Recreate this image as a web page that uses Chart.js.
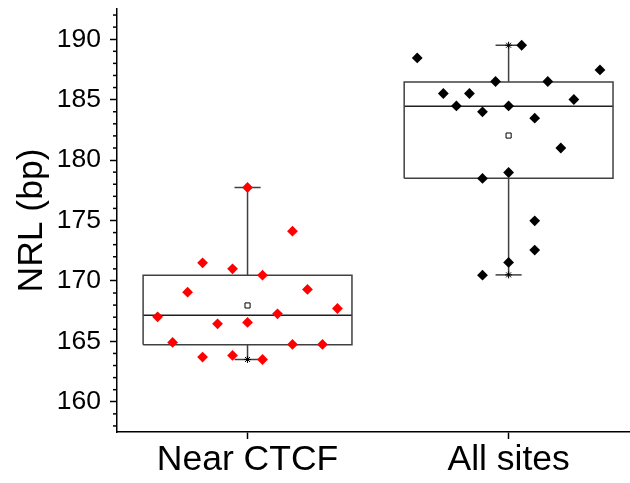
<!DOCTYPE html>
<html>
<head>
<meta charset="utf-8">
<script src="https://cdn.jsdelivr.net/npm/chart.js@4"></script>
<style>
  html, body { margin: 0; padding: 0; background: #fff; }
  #wrap { width: 630px; height: 483px; }
</style>
</head>
<body>
<div id="wrap"><canvas id="c" width="630" height="483"></canvas></div>
<script>
// ---- data ----
const categories = ['Near CTCF', 'All sites'];
const yTickValues = [160, 165, 170, 175, 180, 185, 190];

const nearValues = [167.03, 164.91, 169.07, 171.5, 163.7, 166.45, 171.0, 163.84, 177.73, 166.57, 170.48, 163.5, 167.28, 174.12, 164.75, 169.3, 164.75, 167.72];
const nearJitter = [-6, -5, -4, -3, -3, -2, -1, -1, 0, 0, 1, 1, 2, 3, 3, 4, 5, 6];

const allValues = [188.45, 185.51, 184.48, 185.51, 183.99, 178.48, 170.48, 186.5, 184.48, 178.97, 171.53, 189.5, 183.47, 174.97, 172.55, 186.5, 181.0, 185.01, 187.46];
const allJitter = [-7, -5, -4, -3, -2, -2, -2, -1, 0, 0, 0, 1, 2, 2, 2, 3, 4, 5, 7];

const boxQ1 = [164.71, 178.5];
const boxMedian = [167.15, 184.46];
const boxQ3 = [170.48, 186.47];
const boxMean = [167.97, 182.03];
const whiskerLow = [163.5, 170.5];
const whiskerHigh = [177.73, 189.5];

// ---- drawing config ----
const FONT = "'Liberation Sans', Arial, sans-serif";
const BOX_HALF = 0.4, CAP_HALF = 0.05;
const jitterStep = [0.0574, 0.05];
const pointColors = ['#ff0000', '#000000'];
const groupValues = [nearValues, allValues];
const groupJitter = [nearJitter, allJitter];
const lineColor = '#404040';

const datasets = [];
function lineDs(pts, color, width) {
  return { data: pts, showLine: true, pointRadius: 0, pointHoverRadius: 0,
    borderColor: color, borderWidth: width, fill: false, order: 5, clip: false };
}
categories.forEach((cat, g) => {
  const c = g + 1;
  datasets.push(lineDs([
    {x: c - BOX_HALF, y: boxQ1[g]}, {x: c + BOX_HALF, y: boxQ1[g]},
    {x: c + BOX_HALF, y: boxQ3[g]}, {x: c - BOX_HALF, y: boxQ3[g]},
    {x: c - BOX_HALF, y: boxQ1[g]}], lineColor, 1.5));
  datasets.push(lineDs([{x: c - BOX_HALF, y: boxMedian[g]}, {x: c + BOX_HALF, y: boxMedian[g]}], '#202020', 1.5));
  datasets.push(lineDs([{x: c, y: boxQ3[g]}, {x: c, y: whiskerHigh[g]}], lineColor, 1.5));
  datasets.push(lineDs([{x: c, y: boxQ1[g]}, {x: c, y: whiskerLow[g]}], lineColor, 1.5));
  datasets.push(lineDs([{x: c - CAP_HALF, y: whiskerHigh[g]}, {x: c + CAP_HALF, y: whiskerHigh[g]}], lineColor, 1.5));
  datasets.push(lineDs([{x: c - CAP_HALF, y: whiskerLow[g]}, {x: c + CAP_HALF, y: whiskerLow[g]}], lineColor, 1.5));
  datasets.push({ data: [{x: c, y: whiskerLow[g]}, {x: c, y: whiskerHigh[g]}],
    pointStyle: 'star', pointRadius: 3.5, borderColor: '#000', borderWidth: 1,
    backgroundColor: '#000', showLine: false, order: 3, clip: false });
  datasets.push({ data: [{x: c, y: boxMean[g]}], pointStyle: 'rect', pointRadius: 3.6,
    borderColor: '#000', borderWidth: 1, backgroundColor: '#fff', showLine: false, order: 2, clip: false });
  datasets.push({
    data: groupValues[g].map((v, i) => ({x: c + groupJitter[g][i] * jitterStep[g], y: v})),
    pointStyle: 'rectRot', pointRadius: 5.4, borderWidth: 0,
    backgroundColor: pointColors[g], borderColor: pointColors[g], showLine: false, order: 1, clip: false
  });
});

const minorTicks = {
  id: 'minorTicks',
  afterDraw(chart) {
    const ys = chart.scales.y;
    const ctx = chart.ctx;
    ctx.save();
    ctx.strokeStyle = '#000';
    ctx.lineWidth = 1.5;
    for (let v = Math.ceil(ys.min); v <= Math.floor(ys.max); v++) {
      if (v % 5 === 0) continue;
      const py = ys.getPixelForValue(v);
      ctx.beginPath();
      ctx.moveTo(ys.right - 4, py);
      ctx.lineTo(ys.right, py);
      ctx.stroke();
    }
    ctx.restore();
  }
};

new Chart(document.getElementById('c'), {
  type: 'scatter',
  data: { datasets },
  plugins: [minorTicks],
  options: {
    responsive: false,
    animation: false,
    events: [],
    layout: { autoPadding: false, padding: { top: 9, right: 0, left: 0, bottom: 0 } },
    plugins: { legend: { display: false }, tooltip: { enabled: false } },
    scales: {
      x: {
        type: 'linear', min: 0.5, max: 2.465,
        afterBuildTicks: (s) => { s.ticks = categories.map((_, i) => ({ value: i + 1 })); },
        afterFit: (s) => { s.height = 51; s.paddingLeft = 0; s.paddingRight = 0; },
        ticks: {
          callback: (v) => categories[Math.round(v) - 1],
          font: { family: FONT, size: 35.5 }, color: '#000', padding: 0, maxRotation: 0, autoSkip: false
        },
        grid: { drawOnChartArea: false, tickLength: 7, tickWidth: 1.5, tickColor: '#000' },
        border: { display: true, color: '#000', width: 1.5 }
      },
      y: {
        type: 'linear', min: 157.5, max: 192.5,
        afterBuildTicks: (s) => { s.ticks = yTickValues.map(v => ({ value: v })); },
        afterFit: (s) => { s.width = 117; s.paddingTop = 0; s.paddingBottom = 0; },
        ticks: { font: { family: FONT, size: 26.5 }, color: '#000', padding: 9 },
        grid: { drawOnChartArea: false, tickLength: 7, tickWidth: 1.5, tickColor: '#000' },
        border: { display: true, color: '#000', width: 1.5 },
        title: { display: true, text: 'NRL (bp)', font: { family: FONT, size: 35.5 }, color: '#000',
          padding: { top: 10.5, bottom: 0 } }
      }
    }
  }
});
</script>
</body>
</html>
